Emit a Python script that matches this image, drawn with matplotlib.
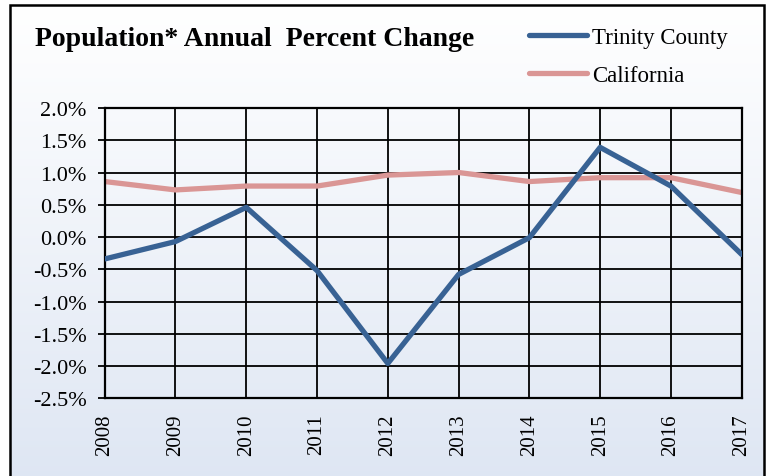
import numpy as np
import matplotlib
matplotlib.use("Agg")
import matplotlib.pyplot as plt
from matplotlib.patches import Rectangle
from matplotlib.ticker import FuncFormatter

plt.rcParams['font.family'] = ['Liberation Serif', 'DejaVu Serif']

# data
years = [2008, 2009, 2010, 2011, 2012, 2013, 2014, 2015, 2016, 2017]
trinity = [-0.34, -0.07, 0.46, -0.52, -1.96, -0.58, -0.01, 1.39, 0.79, -0.27]
california = [0.86, 0.73, 0.79, 0.79, 0.96, 1.00, 0.86, 0.92, 0.92, 0.69]
y_ticks = [-2.5, -2.0, -1.5, -1.0, -0.5, 0.0, 0.5, 1.0, 1.5, 2.0]

W, H = 770, 477
fig = plt.figure(figsize=(W / 100, H / 100), dpi=100)

# gradient background inside the outer frame
bx0, bx1, by_top = 10 / W, 764 / W, 1 - 6 / H
bg = fig.add_axes([bx0, -0.02, bx1 - bx0, by_top + 0.02])
grad = np.linspace(0, 1, 256).reshape(-1, 1)
top_c = np.array([1.0, 1.0, 1.0])
bot_c = np.array([0xDE, 0xE6, 0xF3]) / 255
img = top_c + (bot_c - top_c) * grad
bg.imshow(img.reshape(256, 1, 3), aspect='auto', extent=[0, 1, 0, 1])
bg.set_axis_off()
fig.add_artist(Rectangle((bx0, -0.02), bx1 - bx0, by_top + 0.02,
                         transform=fig.transFigure, fill=False,
                         edgecolor='black', lw=1.8, clip_on=False))

# main plot
ax = fig.add_axes([104.7 / W, 1 - 399.3 / H, (741.7 - 104.7) / W, (399.3 - 109) / H])
ax.patch.set_alpha(0)
ax.plot(years, trinity, color='#386294', lw=3.8, solid_capstyle='round',
        label='Trinity County', zorder=3)
ax.plot(years, california, color='#DA9695', lw=3.8, solid_capstyle='round',
        label='California', zorder=2)

ax.set_xlim(years[0], years[-1])
ax.set_ylim(y_ticks[0], y_ticks[-1])
ax.set_xticks(years)
ax.set_xticklabels([str(y) for y in years], rotation=90)
ax.set_yticks(y_ticks)
ax.yaxis.set_major_formatter(FuncFormatter(lambda v, p: f"{v:.1f}%"))
ax.grid(True, color='black', lw=1.3)
ax.set_axisbelow(True)
for s in ax.spines.values():
    s.set_linewidth(1.6)
ax.tick_params(axis='y', length=5, width=1.3, pad=8, labelsize=16)
ax.tick_params(axis='x', length=0, pad=11, labelsize=15)

fig.text(35 / W, 1 - 46 / H, 'Population* Annual  Percent Change',
         fontsize=20, fontweight='bold', va='baseline', ha='left')

fig.legend(loc='upper left', bbox_to_anchor=(508 / W, 1 - 7 / H),
           frameon=False, fontsize=16.5, handlelength=2.53, handletextpad=0.22,
           labelspacing=0.75)

fig.savefig('out.png', dpi=100)
